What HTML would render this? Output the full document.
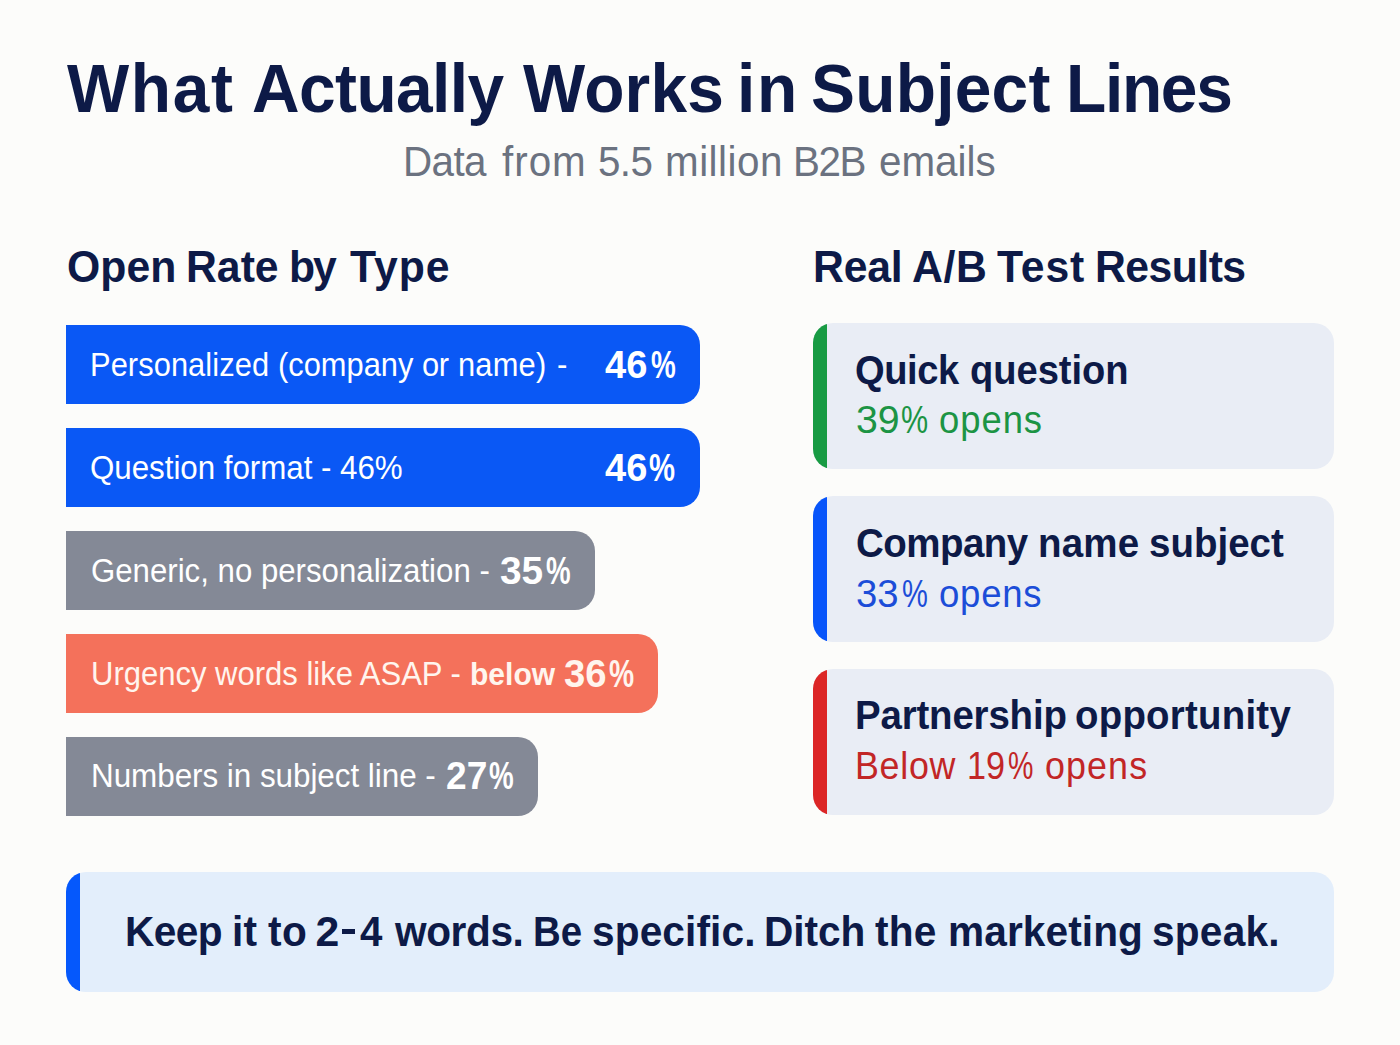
<!DOCTYPE html>
<html>
<head>
<meta charset="utf-8">
<style>
*{margin:0;padding:0;box-sizing:border-box}
html,body{width:1400px;height:1045px;overflow:hidden}
body{background:#fcfcfa;font-family:"Liberation Sans",sans-serif;position:relative;color:#0f1c48}
.t{position:absolute;white-space:nowrap;line-height:1}
.m{display:inline-block;width:0;height:0}
.bar{position:absolute;left:66px;height:79px;border-radius:0 20px 20px 0}
.blue{background:#0a58f5}
.gray{background:#848996}
.coral{background:#f4715b}
.card{position:absolute;left:813px;width:521px;height:146px;border-radius:20px;background:#e9edf5;overflow:hidden}
.card .s{position:absolute;left:0;top:0;width:14px;height:100%}
.call{position:absolute;left:66px;top:872px;width:1268px;height:120px;border-radius:20px;background:#e3eefb;overflow:hidden}
.call .s{position:absolute;left:0;top:0;width:14px;height:100%;background:#0558fc}
</style>
</head>
<body>
<div class="bar blue" style="top:325px;width:634px"></div>
<div class="bar blue" style="top:428px;width:634px"></div>
<div class="bar gray" style="top:531px;width:529px"></div>
<div class="bar coral" style="top:634px;width:592px"></div>
<div class="bar gray" style="top:737px;width:472px"></div>
<div class="card" style="top:323px"><div class="s" style="background:#189b43"></div></div>
<div class="card" style="top:496px"><div class="s" style="background:#0855fa"></div></div>
<div class="card" style="top:669px"><div class="s" style="background:#dc2626"></div></div>
<div class="call"><div class="s"></div></div>
<div style="position:absolute;left:342.3px;top:929.2px;width:12.8px;height:4.7px;background:#0d1a47"></div>
<div class="t" id="title_0" style="left:67.00px;top:55.40px;font-size:68.7px;font-weight:700;color:#0d1a47;letter-spacing:1.739px;transform:scaleX(0.9587);transform-origin:0 0">What<span class="m"></span></div>
<div class="t" id="title_1" style="left:252.00px;top:55.40px;font-size:68.7px;font-weight:700;color:#0d1a47;letter-spacing:-0.596px;transform:scaleX(0.9587);transform-origin:0 0">Actually<span class="m"></span></div>
<div class="t" id="title_2" style="left:523.00px;top:55.40px;font-size:68.7px;font-weight:700;color:#0d1a47;letter-spacing:0.209px;transform:scaleX(0.9587);transform-origin:0 0">Works<span class="m"></span></div>
<div class="t" id="title_3" style="left:737.00px;top:55.40px;font-size:68.7px;font-weight:700;color:#0d1a47;letter-spacing:1.669px;transform:scaleX(0.9587);transform-origin:0 0">in<span class="m"></span></div>
<div class="t" id="title_4" style="left:810.50px;top:55.40px;font-size:68.7px;font-weight:700;color:#0d1a47;letter-spacing:0.278px;transform:scaleX(0.9587);transform-origin:0 0">Subject<span class="m"></span></div>
<div class="t" id="title_5" style="left:1066.00px;top:55.40px;font-size:68.7px;font-weight:700;color:#0d1a47;letter-spacing:-1.356px;transform:scaleX(0.9587);transform-origin:0 0">Lines<span class="m"></span></div>
<div class="t" id="sub_0" style="left:403.00px;top:141.01px;font-size:42.46px;font-weight:400;color:#6b7280;letter-spacing:-0.631px;transform:scaleX(0.9512);transform-origin:0 0">Data<span class="m"></span></div>
<div class="t" id="sub_1" style="left:502.00px;top:141.01px;font-size:42.46px;font-weight:400;color:#6b7280;letter-spacing:1.051px;transform:scaleX(0.9512);transform-origin:0 0">from<span class="m"></span></div>
<div class="t" id="sub_2" style="left:597.50px;top:141.01px;font-size:42.46px;font-weight:400;color:#6b7280;letter-spacing:-0.631px;transform:scaleX(0.9512);transform-origin:0 0">5.5<span class="m"></span></div>
<div class="t" id="sub_3" style="left:665.00px;top:141.01px;font-size:42.46px;font-weight:400;color:#6b7280;letter-spacing:0.526px;transform:scaleX(0.9512);transform-origin:0 0">million<span class="m"></span></div>
<div class="t" id="sub_4" style="left:793.00px;top:141.01px;font-size:42.46px;font-weight:400;color:#6b7280;letter-spacing:-1.472px;transform:scaleX(0.9512);transform-origin:0 0">B2B<span class="m"></span></div>
<div class="t" id="sub_5" style="left:879.00px;top:141.01px;font-size:42.46px;font-weight:400;color:#6b7280;transform:scaleX(0.9512);transform-origin:0 0">emails<span class="m"></span></div>
<div class="t" id="h1_0" style="left:67.00px;top:244.50px;font-size:44.2px;font-weight:700;color:#0d1a47;letter-spacing:0.069px;transform:scaleX(0.9671);transform-origin:0 0">Open<span class="m"></span></div>
<div class="t" id="h1_1" style="left:186.00px;top:244.50px;font-size:44.2px;font-weight:700;color:#0d1a47;transform:scaleX(0.9671);transform-origin:0 0">Rate<span class="m"></span></div>
<div class="t" id="h1_2" style="left:288.50px;top:244.50px;font-size:44.2px;font-weight:700;color:#0d1a47;letter-spacing:-2.275px;transform:scaleX(0.9671);transform-origin:0 0">by<span class="m"></span></div>
<div class="t" id="h1_3" style="left:349.50px;top:244.50px;font-size:44.2px;font-weight:700;color:#0d1a47;letter-spacing:1.034px;transform:scaleX(0.9671);transform-origin:0 0">Type<span class="m"></span></div>
<div class="t" id="h2_0" style="left:813.00px;top:244.50px;font-size:44.2px;font-weight:700;color:#0d1a47;letter-spacing:-0.207px;transform:scaleX(0.9666);transform-origin:0 0">Real<span class="m"></span></div>
<div class="t" id="h2_1" style="left:911.50px;top:244.50px;font-size:44.2px;font-weight:700;color:#0d1a47;letter-spacing:0.621px;transform:scaleX(0.9666);transform-origin:0 0">A/B<span class="m"></span></div>
<div class="t" id="h2_2" style="left:997.00px;top:244.50px;font-size:44.2px;font-weight:700;color:#0d1a47;letter-spacing:0.897px;transform:scaleX(0.9666);transform-origin:0 0">Test<span class="m"></span></div>
<div class="t" id="h2_3" style="left:1095.00px;top:244.50px;font-size:44.2px;font-weight:700;color:#0d1a47;letter-spacing:-0.552px;transform:scaleX(0.9666);transform-origin:0 0">Results<span class="m"></span></div>
<div class="t" id="l1_0" style="left:90.00px;top:348.61px;font-size:32.61px;font-weight:400;color:#fff;letter-spacing:0.077px;transform:scaleX(0.9454);transform-origin:0 0">Personalized<span class="m"></span></div>
<div class="t" id="l1_1" style="left:278.00px;top:348.61px;font-size:32.61px;font-weight:400;color:#fff;transform:scaleX(0.9454);transform-origin:0 0">(company<span class="m"></span></div>
<div class="t" id="l1_2" style="left:422.00px;top:348.61px;font-size:32.61px;font-weight:400;color:#fff;letter-spacing:-0.423px;transform:scaleX(0.9454);transform-origin:0 0">or<span class="m"></span></div>
<div class="t" id="l1_3" style="left:458.00px;top:348.61px;font-size:32.61px;font-weight:400;color:#fff;letter-spacing:0.212px;transform:scaleX(0.9454);transform-origin:0 0">name)<span class="m"></span></div>
<div class="t" id="l1_4" style="left:556.50px;top:348.61px;font-size:32.61px;font-weight:400;color:#fff;transform:scaleX(0.9563);transform-origin:0 0">-<span class="m"></span></div>
<div class="t" id="p1_0" style="left:604.50px;top:345.21px;font-size:39.13px;font-weight:700;color:#fff;transform:scaleX(0.9723);transform-origin:0 0">46<span class="m"></span></div>
<div class="t" id="p1_1" style="left:650.50px;top:345.21px;font-size:39.13px;font-weight:700;color:#fff;transform:scaleX(0.7122);transform-origin:0 0">%<span class="m"></span></div>
<div class="t" id="l2_0" style="left:90.00px;top:451.61px;font-size:32.61px;font-weight:400;color:#fff;letter-spacing:-0.031px;transform:scaleX(0.9602);transform-origin:0 0">Question format - 46%<span class="m"></span></div>
<div class="t" id="p2_0" style="left:605.00px;top:448.21px;font-size:39.13px;font-weight:700;color:#fff;transform:scaleX(0.9717);transform-origin:0 0">46<span class="m"></span></div>
<div class="t" id="p2_1" style="left:649.00px;top:448.21px;font-size:39.13px;font-weight:700;color:#fff;transform:scaleX(0.7480);transform-origin:0 0">%<span class="m"></span></div>
<div class="t" id="l3_0" style="left:91.00px;top:554.61px;font-size:32.61px;font-weight:400;color:#fff;letter-spacing:0.007px;transform:scaleX(0.9561);transform-origin:0 0">Generic, no personalization -<span class="m"></span></div>
<div class="t" id="p3_0" style="left:499.50px;top:551.01px;font-size:38.99px;font-weight:700;color:#fff;transform:scaleX(0.9954);transform-origin:0 0">35<span class="m"></span></div>
<div class="t" id="p3_1" style="left:545.50px;top:551.01px;font-size:38.99px;font-weight:700;color:#fff;transform:scaleX(0.7102);transform-origin:0 0">%<span class="m"></span></div>
<div class="t" id="l4_0" style="left:91.00px;top:657.71px;font-size:32.61px;font-weight:400;color:#fff5ee;transform:scaleX(0.9508);transform-origin:0 0">Urgency words like ASAP -<span class="m"></span></div>
<div class="t" id="b4_0" style="left:469.50px;top:658.82px;font-size:30.55px;font-weight:700;color:#fff5ee;transform:scaleX(0.9838);transform-origin:0 0">below<span class="m"></span></div>
<div class="t" id="p4_0" style="left:564.00px;top:654.61px;font-size:38.84px;font-weight:700;color:#fff5ee;transform:scaleX(0.9857);transform-origin:0 0">36<span class="m"></span></div>
<div class="t" id="p4_1" style="left:609.00px;top:654.61px;font-size:38.84px;font-weight:700;color:#fff5ee;transform:scaleX(0.7279);transform-origin:0 0">%<span class="m"></span></div>
<div class="t" id="l5_0" style="left:91.00px;top:760.01px;font-size:32.61px;font-weight:400;color:#fff;letter-spacing:-0.043px;transform:scaleX(0.9634);transform-origin:0 0">Numbers in subject line -<span class="m"></span></div>
<div class="t" id="p5_0" style="left:445.50px;top:756.31px;font-size:38.99px;font-weight:700;color:#fff;transform:scaleX(0.9515);transform-origin:0 0">27<span class="m"></span></div>
<div class="t" id="p5_1" style="left:489.00px;top:756.31px;font-size:38.99px;font-weight:700;color:#fff;transform:scaleX(0.7120);transform-origin:0 0">%<span class="m"></span></div>
<div class="t" id="c1a_0" style="left:855.00px;top:350.81px;font-size:40.14px;font-weight:700;color:#0d1a47;letter-spacing:-0.421px;transform:scaleX(0.9498);transform-origin:0 0">Quick<span class="m"></span></div>
<div class="t" id="c1a_1" style="left:970.00px;top:350.81px;font-size:40.14px;font-weight:700;color:#0d1a47;letter-spacing:-0.030px;transform:scaleX(0.9498);transform-origin:0 0">question<span class="m"></span></div>
<div class="t" id="c1b_0" style="left:855.50px;top:401.31px;font-size:38.12px;font-weight:400;color:#1c9444;transform:scaleX(1.0303);transform-origin:0 0">39<span class="m"></span></div>
<div class="t" id="c1b_1" style="left:900.50px;top:401.31px;font-size:38.12px;font-weight:400;color:#1c9444;transform:scaleX(0.8009);transform-origin:0 0">%<span class="m"></span></div>
<div class="t" id="c1b_2" style="left:939.00px;top:401.31px;font-size:38.12px;font-weight:400;color:#1c9444;letter-spacing:0.993px;transform:scaleX(0.9563);transform-origin:0 0">opens<span class="m"></span></div>
<div class="t" id="c2a_0" style="left:856.00px;top:523.72px;font-size:40.14px;font-weight:700;color:#0d1a47;letter-spacing:-0.556px;transform:scaleX(0.9599);transform-origin:0 0">Company<span class="m"></span></div>
<div class="t" id="c2a_1" style="left:1038.00px;top:523.72px;font-size:40.14px;font-weight:700;color:#0d1a47;letter-spacing:0.208px;transform:scaleX(0.9599);transform-origin:0 0">name<span class="m"></span></div>
<div class="t" id="c2a_2" style="left:1149.00px;top:523.72px;font-size:40.14px;font-weight:700;color:#0d1a47;transform:scaleX(0.9599);transform-origin:0 0">subject<span class="m"></span></div>
<div class="t" id="c2b_0" style="left:855.50px;top:574.81px;font-size:38.12px;font-weight:400;color:#1c4dd8;transform:scaleX(1.0051);transform-origin:0 0">33<span class="m"></span></div>
<div class="t" id="c2b_1" style="left:901.50px;top:574.81px;font-size:38.12px;font-weight:400;color:#1c4dd8;transform:scaleX(0.7630);transform-origin:0 0">%<span class="m"></span></div>
<div class="t" id="c2b_2" style="left:939.00px;top:574.81px;font-size:38.12px;font-weight:400;color:#1c4dd8;letter-spacing:0.782px;transform:scaleX(0.9590);transform-origin:0 0">opens<span class="m"></span></div>
<div class="t" id="c3a_0" style="left:854.50px;top:696.22px;font-size:40.14px;font-weight:700;color:#0d1a47;letter-spacing:-0.188px;transform:scaleX(0.9583);transform-origin:0 0">Partnership<span class="m"></span></div>
<div class="t" id="c3a_1" style="left:1074.50px;top:696.22px;font-size:40.14px;font-weight:700;color:#0d1a47;letter-spacing:0.230px;transform:scaleX(0.9583);transform-origin:0 0">opportunity<span class="m"></span></div>
<div class="t" id="c3b_0" style="left:854.50px;top:746.50px;font-size:38.12px;font-weight:400;color:#c22626;letter-spacing:0.744px;transform:scaleX(0.9407);transform-origin:0 0">Below<span class="m"></span></div>
<div class="t" id="c3b_1" style="left:966.50px;top:746.50px;font-size:38.12px;font-weight:400;color:#c22626;transform:scaleX(0.8978);transform-origin:0 0">19<span class="m"></span></div>
<div class="t" id="c3b_2" style="left:1007.50px;top:746.50px;font-size:38.12px;font-weight:400;color:#c22626;transform:scaleX(0.7500);transform-origin:0 0">%<span class="m"></span></div>
<div class="t" id="c3b_3" style="left:1044.50px;top:746.50px;font-size:38.12px;font-weight:400;color:#c22626;letter-spacing:1.169px;transform:scaleX(0.9407);transform-origin:0 0">opens<span class="m"></span></div>
<div class="t" id="k_0" style="left:124.50px;top:910.21px;font-size:42.75px;font-weight:700;color:#0d1a47;letter-spacing:-0.632px;transform:scaleX(0.9499);transform-origin:0 0">Keep<span class="m"></span></div>
<div class="t" id="k_1" style="left:232.00px;top:910.21px;font-size:42.75px;font-weight:700;color:#0d1a47;letter-spacing:0.211px;transform:scaleX(0.9499);transform-origin:0 0">it<span class="m"></span></div>
<div class="t" id="k_2" style="left:267.50px;top:910.21px;font-size:42.75px;font-weight:700;color:#0d1a47;letter-spacing:0.421px;transform:scaleX(0.9499);transform-origin:0 0">to<span class="m"></span></div>
<div class="t" id="k_3" style="left:315.50px;top:910.21px;font-size:42.75px;font-weight:700;color:#0d1a47">2<span class="m"></span></div>
<div class="t" id="k_4" style="left:360.00px;top:910.21px;font-size:42.75px;font-weight:700;color:#0d1a47;transform:scaleX(0.9418);transform-origin:0 0">4<span class="m"></span></div>
<div class="t" id="k_5" style="left:395.00px;top:910.21px;font-size:42.75px;font-weight:700;color:#0d1a47;letter-spacing:-0.421px;transform:scaleX(0.9499);transform-origin:0 0">words.<span class="m"></span></div>
<div class="t" id="k_6" style="left:532.50px;top:910.21px;font-size:42.75px;font-weight:700;color:#0d1a47;transform:scaleX(0.8982);transform-origin:0 0">Be<span class="m"></span></div>
<div class="t" id="k_7" style="left:591.50px;top:910.21px;font-size:42.75px;font-weight:700;color:#0d1a47;letter-spacing:0.132px;transform:scaleX(0.9499);transform-origin:0 0">specific.<span class="m"></span></div>
<div class="t" id="k_8" style="left:763.50px;top:910.21px;font-size:42.75px;font-weight:700;color:#0d1a47;letter-spacing:-0.053px;transform:scaleX(0.9499);transform-origin:0 0">Ditch<span class="m"></span></div>
<div class="t" id="k_9" style="left:875.00px;top:910.21px;font-size:42.75px;font-weight:700;color:#0d1a47;letter-spacing:0.211px;transform:scaleX(0.9499);transform-origin:0 0">the<span class="m"></span></div>
<div class="t" id="k_10" style="left:947.50px;top:910.21px;font-size:42.75px;font-weight:700;color:#0d1a47;letter-spacing:0.105px;transform:scaleX(0.9499);transform-origin:0 0">marketing<span class="m"></span></div>
<div class="t" id="k_11" style="left:1151.50px;top:910.21px;font-size:42.75px;font-weight:700;color:#0d1a47;letter-spacing:0.253px;transform:scaleX(0.9499);transform-origin:0 0">speak.<span class="m"></span></div>
</body>
</html>
